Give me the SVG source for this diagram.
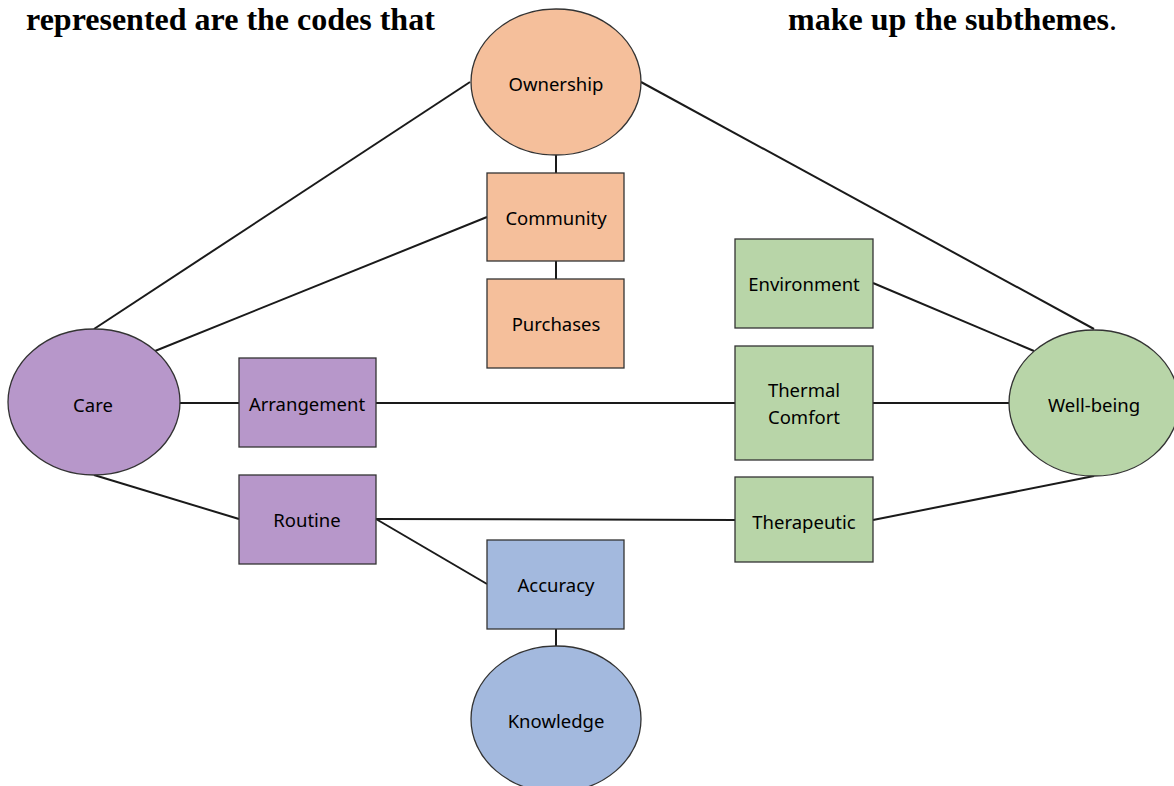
<svg xmlns="http://www.w3.org/2000/svg" width="1174" height="786" viewBox="0 0 1174 786">
<style>
.hdr{font-family:"Liberation Serif","Times New Roman",serif;font-weight:bold;font-size:32px;fill:#000}
.lbl{font-family:"Noto Sans","Open Sans",sans-serif;font-size:18.5px;fill:#000;text-anchor:middle;dominant-baseline:central}
.shape{stroke:#333;stroke-width:1.3}
.or{fill:#F5BF9B}.pu{fill:#B797CA}.gr{fill:#B8D5A8}.bl{fill:#A3B9DE}
.edge{stroke:#1a1a1a;stroke-width:2;fill:none}
</style>
<rect width="1174" height="786" fill="#fff"/>
<text class="hdr" x="26" y="30">represented are the codes that</text>
<text class="hdr" x="788" y="30">make up the subthemes<tspan font-weight="normal">.</tspan></text>
<g id="connectors">
<line class="edge" x1="470" y1="82" x2="94" y2="329"/>
<line class="edge" x1="641" y1="82" x2="1094" y2="329"/>
<line class="edge" x1="556" y1="154" x2="556" y2="173"/>
<line class="edge" x1="556" y1="261" x2="556" y2="279"/>
<line class="edge" x1="487" y1="217" x2="155" y2="351"/>
<line class="edge" x1="179" y1="403" x2="239" y2="403"/>
<line class="edge" x1="376" y1="403" x2="735" y2="403"/>
<line class="edge" x1="873" y1="403" x2="1009" y2="403"/>
<line class="edge" x1="94" y1="475" x2="239" y2="519"/>
<line class="edge" x1="376" y1="519" x2="735" y2="520"/>
<line class="edge" x1="376" y1="519" x2="487" y2="584"/>
<line class="edge" x1="556" y1="629" x2="556" y2="646"/>
<line class="edge" x1="873" y1="283" x2="1034" y2="351"/>
<line class="edge" x1="873" y1="520" x2="1094" y2="476"/>
</g>
<g id="ownership"><ellipse class="shape or" cx="556" cy="82" rx="85" ry="73"/><text class="lbl" x="556" y="83">Ownership</text></g>
<g id="community"><rect class="shape or" x="487" y="173" width="137" height="88"/><text class="lbl" x="556" y="217">Community</text></g>
<g id="purchases"><rect class="shape or" x="487" y="279" width="137" height="89"/><text class="lbl" x="556" y="323">Purchases</text></g>
<g id="care"><ellipse class="shape pu" cx="94" cy="402" rx="86" ry="73"/><text class="lbl" x="93" y="404">Care</text></g>
<g id="arrangement"><rect class="shape pu" x="239" y="358" width="137" height="89"/><text class="lbl" x="307" y="403">Arrangement</text></g>
<g id="routine"><rect class="shape pu" x="239" y="475" width="137" height="89"/><text class="lbl" x="307" y="519">Routine</text></g>
<g id="environment"><rect class="shape gr" x="735" y="239" width="138" height="89"/><text class="lbl" x="804" y="283">Environment</text></g>
<g id="thermal-comfort"><rect class="shape gr" x="735" y="346" width="138" height="114"/><text class="lbl" x="804" y="389">Thermal</text><text class="lbl" x="804" y="416">Comfort</text></g>
<g id="therapeutic"><rect class="shape gr" x="735" y="477" width="138" height="85"/><text class="lbl" x="804" y="521">Therapeutic</text></g>
<g id="well-being"><ellipse class="shape gr" cx="1094" cy="403" rx="85" ry="73"/><text class="lbl" x="1094" y="404">Well-being</text></g>
<g id="accuracy"><rect class="shape bl" x="487" y="540" width="137" height="89"/><text class="lbl" x="556" y="584">Accuracy</text></g>
<g id="knowledge"><ellipse class="shape bl" cx="556" cy="719" rx="85" ry="73"/><text class="lbl" x="556" y="720">Knowledge</text></g>
</svg>
